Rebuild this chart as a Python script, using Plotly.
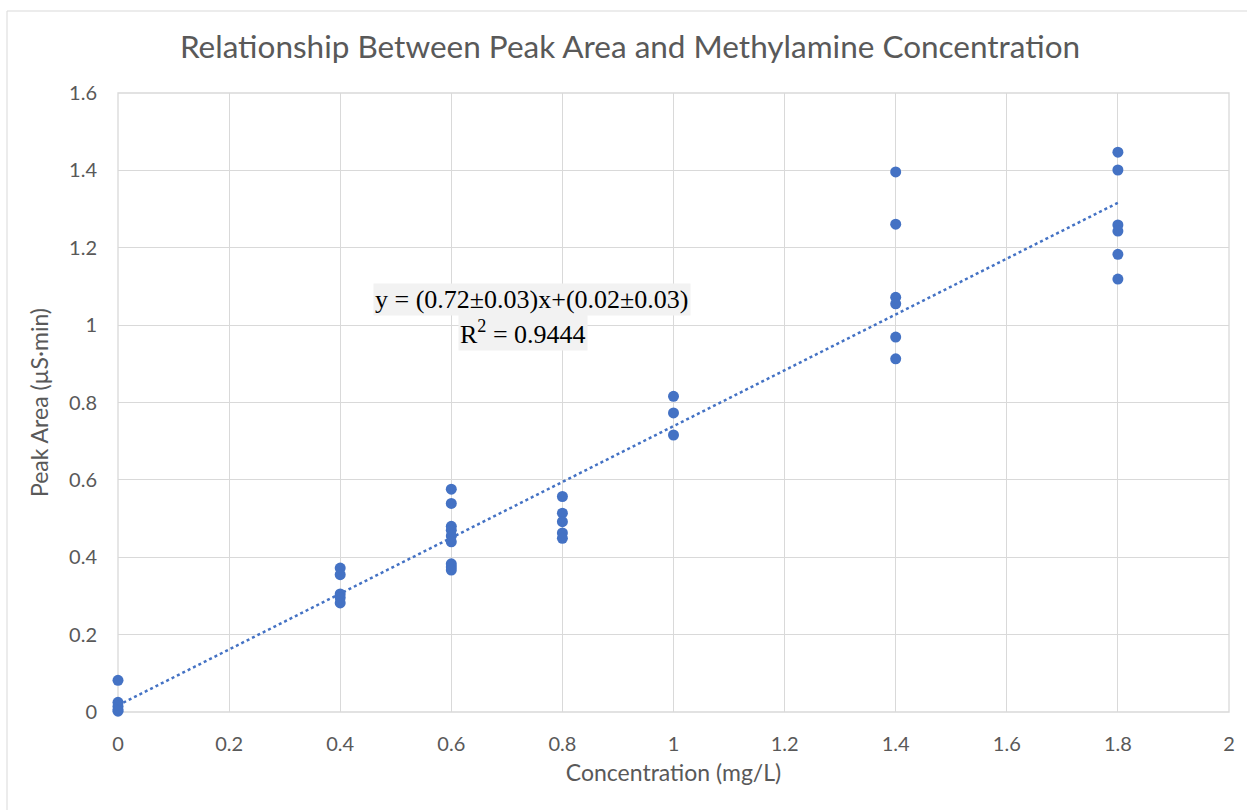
import numpy as np
import plotly.graph_objects as go

conc = [0, 0, 0, 0, 0,
        0.4, 0.4, 0.4, 0.4, 0.4,
        0.6, 0.6, 0.6, 0.6, 0.6, 0.6, 0.6, 0.6, 0.6,
        0.8, 0.8, 0.8, 0.8, 0.8,
        1.0, 1.0, 1.0,
        1.4, 1.4, 1.4, 1.4, 1.4, 1.4,
        1.8, 1.8, 1.8, 1.8, 1.8, 1.8]
peak_area = [0.082, 0.025, 0.015, 0.006, 0.002,
             0.372, 0.355, 0.305, 0.295, 0.282,
             0.576, 0.539, 0.480, 0.470, 0.455, 0.440, 0.383, 0.375, 0.367,
             0.557, 0.514, 0.492, 0.463, 0.449,
             0.816, 0.773, 0.716,
             1.396, 1.261, 1.072, 1.055, 0.969, 0.913,
             1.447, 1.401, 1.259, 1.243, 1.183, 1.119]

eq_line1 = "y = (0.72±0.03)x+(0.02±0.03)"
eq_line2 = "R<sup>2</sup> = 0.9444"

slope, intercept = np.polyfit(conc, peak_area, 1)
fit_x = [min(conc), max(conc)]
fit_y = [slope * v + intercept for v in fit_x]

blue = "#4472C4"
grid = "#d9d9d9"
txt = "#595959"

fig = go.Figure()
fig.add_trace(go.Scatter(x=fit_x, y=fit_y, mode="lines",
                         line=dict(color=blue, width=2.5, dash="dot"),
                         hoverinfo="skip", showlegend=False))
fig.add_trace(go.Scatter(x=conc, y=peak_area, mode="markers",
                         marker=dict(color=blue, size=11), cliponaxis=False,
                         showlegend=False))

fig.add_annotation(x=0.745, y=1.065, xref="x", yref="y", text=eq_line1,
                   showarrow=False, bgcolor="#f2f2f2", borderpad=1,
                   font=dict(family="Liberation Serif", size=26, color="black"))
fig.add_annotation(x=0.729, y=0.982, xref="x", yref="y", text=eq_line2,
                   showarrow=False, bgcolor="#f2f2f2", borderpad=1,
                   font=dict(family="Liberation Serif", size=26, color="black"))

# chart outer border
fig.add_shape(type="rect", xref="paper", yref="paper",
              x0=-111/1111, x1=1.3, y0=-0.5, y1=(712-11)/619,
              line=dict(color=grid, width=1), layer="below")
# plot area border
fig.add_shape(type="rect", xref="paper", yref="paper", x0=0, x1=1, y0=0, y1=1,
              line=dict(color=grid, width=1.3), layer="below")

fig.update_layout(
    width=1247, height=810,
    margin=dict(l=118, r=18, t=93, b=98),
    paper_bgcolor="white", plot_bgcolor="white",
    font=dict(family="Lato", color=txt),
    title=dict(text="Relationship Between Peak Area and Methylamine Concentration",
               x=630/1247, xanchor="center", xref="container", y=1 - 47/810, yanchor="middle",
               font=dict(family="Lato", size=31.5, color=txt)),
    xaxis=dict(range=[0, 2], dtick=0.2, tick0=0, showgrid=True, gridcolor=grid,
               gridwidth=1.3, zeroline=False, showline=False, ticks="",
               tickfont=dict(size=20, color=txt), ticklabelstandoff=18,
               title=dict(text="Concentration (mg/L)", font=dict(size=23, color=txt),
                          standoff=10)),
    yaxis=dict(range=[0, 1.6], dtick=0.2, tick0=0, showgrid=True, gridcolor=grid,
               gridwidth=1.3, zeroline=False, showline=False, ticks="",
               tickfont=dict(size=20, color=txt), ticklabelstandoff=20,
               title=dict(text="Peak Area (µS·min)", font=dict(size=23, color=txt),
                          standoff=14)),
)

fig.write_html("out.html")
